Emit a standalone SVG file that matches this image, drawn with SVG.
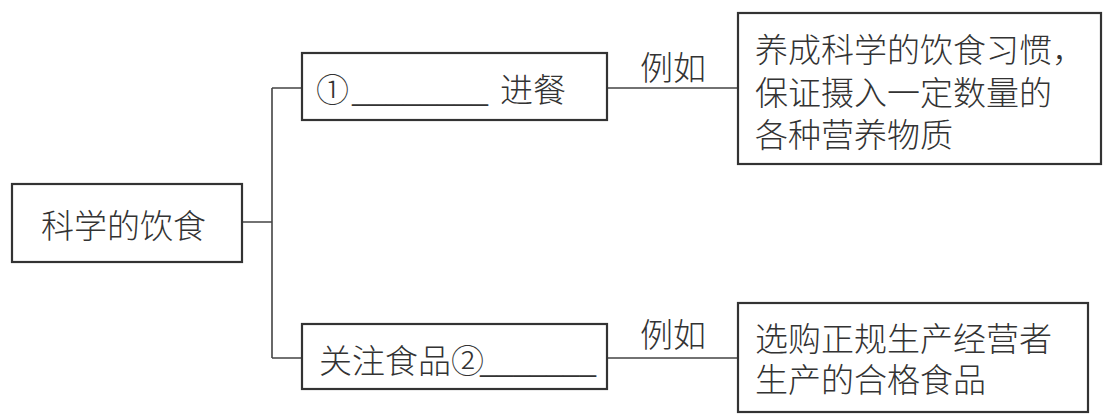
<svg xmlns="http://www.w3.org/2000/svg" width="1110" height="418" viewBox="0 0 1110 418">
<style>
.box{fill:#fff;stroke:#333;stroke-width:2.2}
.ln{fill:none;stroke:#444;stroke-width:1.6}
.t{font-family:"Liberation Serif","Noto Sans CJK SC",serif;font-weight:300;fill:#333;font-size:33px}
</style>
<rect width="1110" height="418" fill="#fff"/>
<g id="connectors">
<path class="ln" d="M242 222H272M272 88V358M272 88H302M272 358H302"/>
<path class="ln" d="M607 88H738M607 358H738"/>
<text class="t" x="640" y="80" font-size="32">例如</text>
<text class="t" x="640" y="347" font-size="32">例如</text>
</g>
<g id="root">
<rect class="box" x="12" y="184" width="230" height="78"/>
<text class="t" x="41" y="238" font-size="35">科学的饮食</text>
</g>
<g id="n1">
<rect class="box" x="302" y="53" width="305" height="67"/>
<text class="t" y="102"><tspan x="316">①</tspan><tspan x="352" textLength="136" lengthAdjust="spacingAndGlyphs">________</tspan><tspan x="500">进餐</tspan></text>
</g>
<g id="n2">
<rect class="box" x="302" y="324" width="305" height="65"/>
<text class="t" y="373"><tspan x="319">关注食品②</tspan><tspan x="480" textLength="116" lengthAdjust="spacingAndGlyphs">_______</tspan></text>
</g>
<g id="n3">
<rect class="box" x="738" y="13" width="363" height="151"/>
<text class="t" font-size="34.5"><tspan x="755" y="62">养成科学的饮食习惯，</tspan><tspan x="755" y="105">保证摄入一定数量的</tspan><tspan x="755" y="147">各种营养物质</tspan></text>
</g>
<g id="n4">
<rect class="box" x="738" y="303" width="350" height="109"/>
<text class="t" font-size="34.5"><tspan x="755" y="351">选购正规生产经营者</tspan><tspan x="755" y="392">生产的合格食品</tspan></text>
</g>
</svg>
